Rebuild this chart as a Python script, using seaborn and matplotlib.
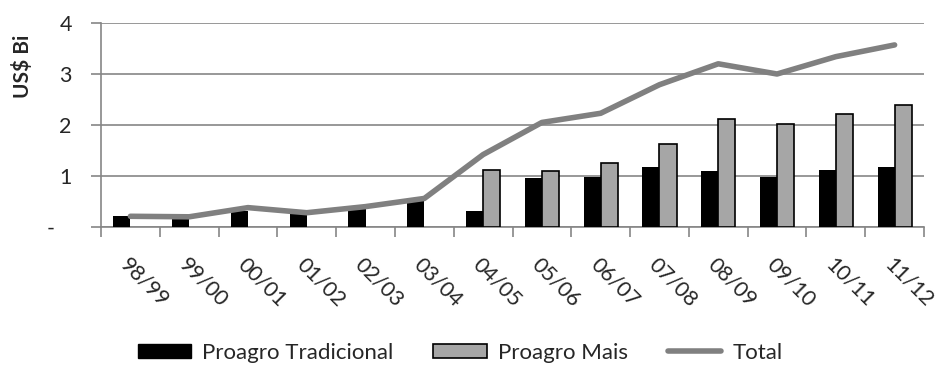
import matplotlib
matplotlib.use("Agg")
from matplotlib import pyplot as plt
from matplotlib.patches import Patch
from matplotlib.lines import Line2D
import seaborn as sns
import pandas as pd

safras = ["98/99", "99/00", "00/01", "01/02", "02/03", "03/04", "04/05",
          "05/06", "06/07", "07/08", "08/09", "09/10", "10/11", "11/12"]
tradicional = [0.21, 0.17, 0.32, 0.25, 0.37, 0.52, 0.31,
               0.96, 0.98, 1.17, 1.09, 0.99, 1.12, 1.18]
mais = [0, 0, 0, 0, 0, 0, 1.11,
        1.09, 1.25, 1.62, 2.12, 2.01, 2.22, 2.39]
total = [0.21, 0.20, 0.38, 0.28, 0.40, 0.56, 1.42,
         2.05, 2.23, 2.79, 3.20, 3.00, 3.34, 3.57]

sns.set_style("white")
plt.rcParams["font.family"] = ["Lato", "DejaVu Sans"]

df = pd.DataFrame({"Safra": safras * 2,
                   "Valor": tradicional + mais,
                   "Serie": ["Proagro Tradicional"] * len(safras) + ["Proagro Mais"] * len(safras)})

fig = plt.figure(figsize=(9.43, 3.65), dpi=100)
ax = fig.add_axes([101 / 943, 1 - 227 / 365, 823 / 943, 204 / 365])

sns.barplot(data=df, x="Safra", y="Valor", hue="Serie", order=safras,
            palette={"Proagro Tradicional": "black", "Proagro Mais": "#a6a6a6"},
            width=0.58, ax=ax, legend=False, errorbar=None, zorder=3)

# black edge only on the grey bars, hide empty ones
for patch in ax.containers[1]:
    patch.set_edgecolor("black")
    patch.set_linewidth(1.2)
    if patch.get_height() == 0:
        patch.set_visible(False)
for patch in ax.containers[0]:
    patch.set_linewidth(0)

sns.lineplot(x=list(range(len(safras))), y=total, color="#808080", linewidth=4,
             ax=ax, zorder=4, legend=False)

ax.set_xlim(-0.5, len(safras) - 0.5)
ax.set_ylim(0, 4)
ax.set_yticks([0, 1, 2, 3, 4])
ax.set_yticklabels(["-   ", "1", "2", "3", "4"])
ax.yaxis.grid(True, color="#868686", linewidth=1.2, zorder=0)
ax.set_axisbelow(True)

ax.set_xticks([i + 0.5 for i in range(-1, len(safras))], minor=True)
ax.set_xticks(range(len(safras)))
ax.set_xticklabels(safras, rotation=-45, ha="left", rotation_mode="anchor", fontsize=15.5)
ax.tick_params(axis="x", which="major", length=0, pad=20)
ax.tick_params(axis="x", which="minor", length=7, color="#868686", width=1.2, direction="out")
ax.tick_params(axis="y", length=7, color="#868686", width=1.2, direction="out", labelsize=15.5, pad=14)
ax.tick_params(bottom=True, left=True)
ax.xaxis.set_tick_params(which="minor", bottom=True)

for side in ["top", "right"]:
    ax.spines[side].set_visible(False)
for side in ["left", "bottom"]:
    ax.spines[side].set_color("#868686")
    ax.spines[side].set_linewidth(1.2)

ax.set_xlabel("")
ax.set_ylabel("")
fig.text(22 / 943, 1 - 66 / 365, "US$ Bi", rotation=90, ha="center", va="center",
         fontsize=15, fontweight="bold")

handles = [Patch(facecolor="black", edgecolor="black", label="Proagro Tradicional"),
           Patch(facecolor="#a6a6a6", edgecolor="black", linewidth=1.2, label="Proagro Mais"),
           Line2D([0], [0], color="#808080", linewidth=4, label="Total")]
fig.legend(handles=handles, loc="center", bbox_to_anchor=(460 / 943, 1 - 353 / 365),
           ncol=3, frameon=False, fontsize=16, handlelength=2.4, handleheight=0.63,
           handletextpad=0.5, columnspacing=1.8, borderpad=0, borderaxespad=0)

fig.savefig("out.png", dpi=100)
